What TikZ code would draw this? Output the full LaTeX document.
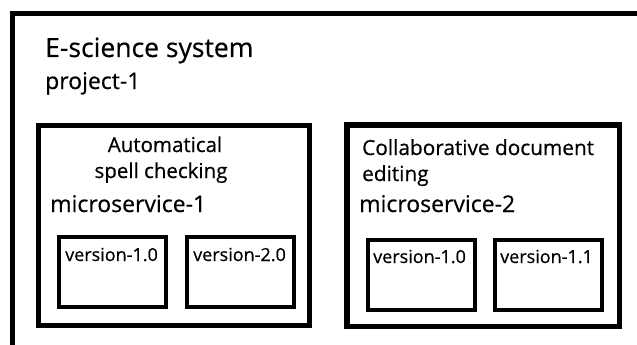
\documentclass[tikz,border=0pt]{standalone}
\usepackage{fontspec}
\setmainfont{Open Sans}[FakeBold=0.5]
\begin{document}
\begin{tikzpicture}[x=1pt,y=-1pt]
\tikzstyle{service}=[rectangle,draw,line width=5.5pt,minimum width=271pt,minimum height=200pt,inner sep=0pt]
\tikzstyle{version}=[rectangle,draw,line width=4pt,minimum width=107pt,minimum height=70pt,inner sep=0pt]
\tikzstyle{felirat}=[anchor=base west,inner sep=0pt]
\tikzstyle{cim}=[anchor=base,inner sep=0pt,font=\fontsize{20.5}{24}\selectfont]
\useasboundingbox (0,0) rectangle (637,345);
\coordinate (sys_sarok) at (12,14);
\draw[line width=5pt] (12,345)--(sys_sarok)--(637,14);
\node[felirat,font=\fontsize{26.5}{30}\selectfont] (sys_felirat) at (45,57){E-science system};
\node[felirat,font=\fontsize{23}{27}\selectfont] (proj_felirat) at (45,89){project-1};

\node[service] (ms1) at (174,225.5){};
\node[cim] (ms1_cim_a) at (165,152){Automatical};
\node[cim] (ms1_cim_b) at (161,178){spell checking};
\node[felirat,font=\fontsize{23}{26}\selectfont] (ms1_felirat) at (50,212){microservice-1};
\node[version] (ms1_v1) at (112.5,271.5){};
\node[version] (ms1_v2) at (240,271.5){};
\node[felirat,font=\fontsize{18}{21}\selectfont] (ms1_v1_felirat) at (65,261){version-1.0};
\node[felirat,font=\fontsize{18}{21}\selectfont] (ms1_v2_felirat) at (193,261){version-2.0};

\node[service,minimum width=272.5pt,minimum height=201.5pt] (ms2) at (483,225.5){};
\node[felirat,font=\fontsize{20.8}{24}\selectfont] (ms2_cim_a) at (362,155){Collaborative document};
\node[felirat,font=\fontsize{20.8}{24}\selectfont] (ms2_cim_b) at (362,181){editing};
\node[felirat,font=\fontsize{23}{26}\selectfont] (ms2_felirat) at (359,212){microservice-2};
\node[version] (ms2_v1) at (421.5,275){};
\node[version] (ms2_v2) at (548.5,275){};
\node[felirat,font=\fontsize{18}{21}\selectfont] (ms2_v1_felirat) at (373,263){version-1.0};
\node[felirat,font=\fontsize{18}{21}\selectfont] (ms2_v2_felirat) at (500,263){version-1.1};
\end{tikzpicture}
\end{document}
